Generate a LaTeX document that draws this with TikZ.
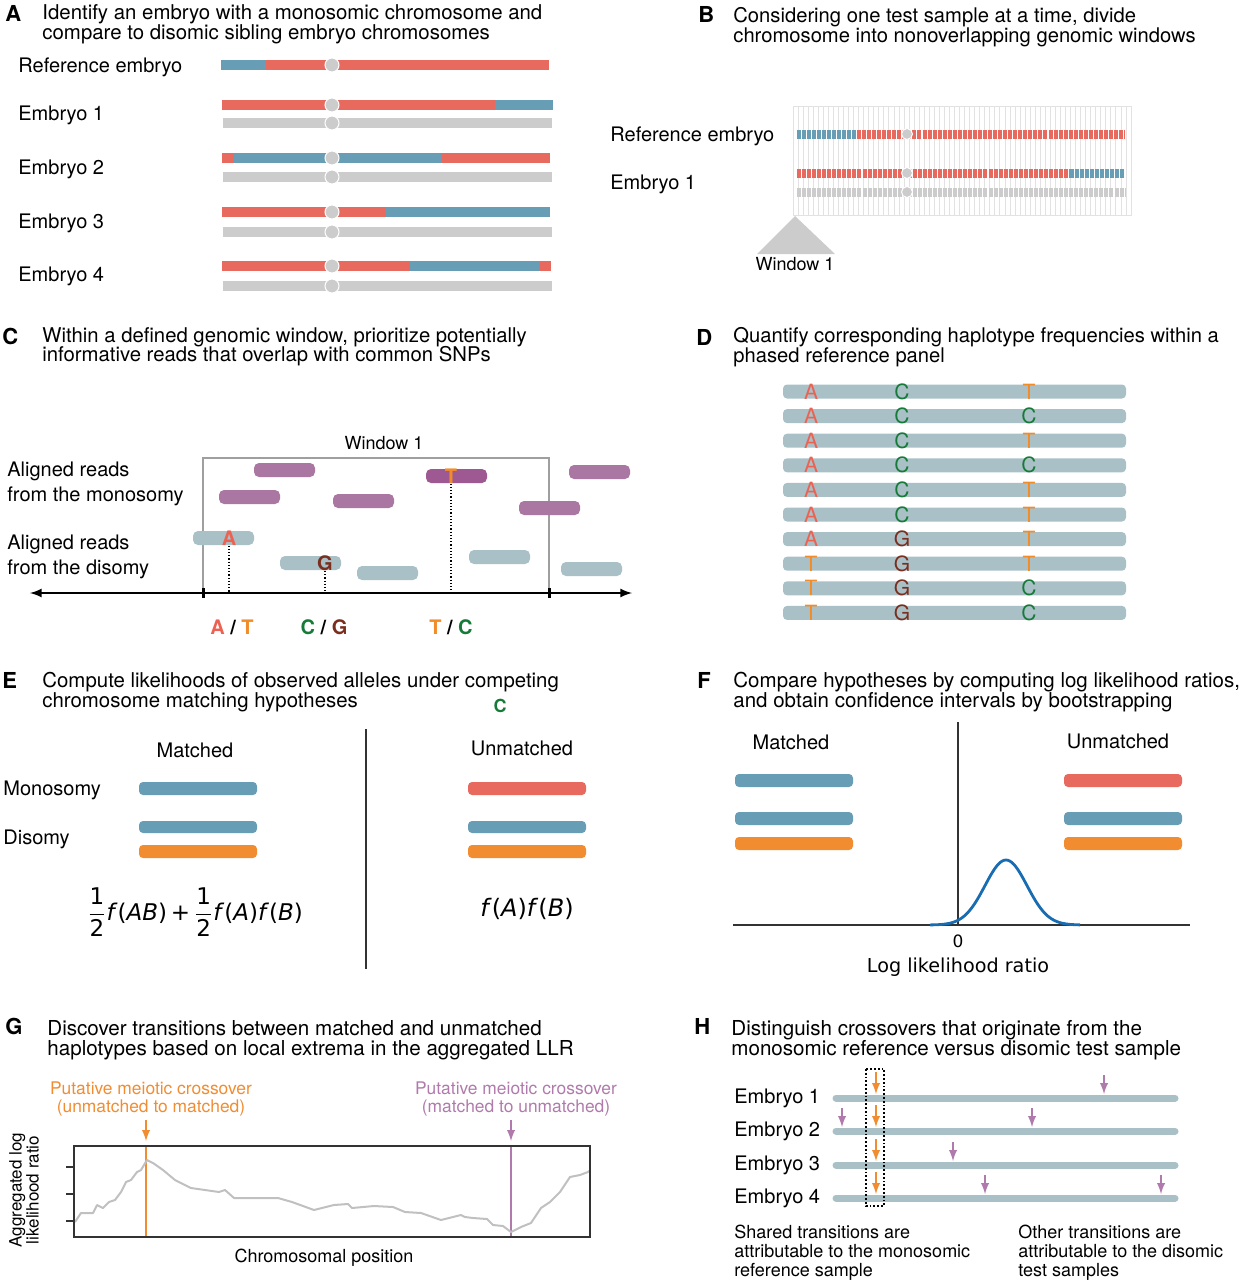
\documentclass[tikz,border=0pt]{standalone}
\usepackage{fontspec}
\setmainfont{TeX Gyre Heros}
\newfontfamily\dejavu{DejaVu Sans}
\usetikzlibrary{positioning,calc}

\definecolor{chrred}{RGB}{232,106,94}
\definecolor{chrblue}{RGB}{104,158,181}
\definecolor{chrgrey}{RGB}{204,204,204}
\definecolor{gridgrey}{RGB}{226,226,226}
\definecolor{monoread}{RGB}{170,118,162}
\definecolor{monoreaddark}{RGB}{158,88,146}
\definecolor{diread}{RGB}{168,192,198}
\definecolor{baseA}{RGB}{236,98,82}
\definecolor{baseT}{RGB}{242,140,40}
\definecolor{baseC}{RGB}{22,122,56}
\definecolor{baseG}{RGB}{122,46,30}
\definecolor{hyporange}{RGB}{241,140,48}
\definecolor{xopurple}{RGB}{176,122,172}
\definecolor{llrblue}{RGB}{24,108,178}
\definecolor{llrgrey}{RGB}{192,192,192}
\definecolor{axisgrey}{RGB}{51,51,51}

\begin{document}
\begin{tikzpicture}[x=0.5pt,y=-0.5pt,
		panel/.style={font=\fontsize{11}{11}\selectfont\bfseries,anchor=base west,inner sep=0pt},
		title/.style={font=\fontsize{#1}{9.8}\selectfont,align=left,anchor=north west,inner sep=0pt},
		title/.default=10.2,
		lab/.style={font=\fontsize{10}{12.5}\selectfont,align=left,anchor=west,inner sep=0pt,yshift=-1pt},
		small/.style={font=\fontsize{9}{9.5}\selectfont,inner sep=0pt},
		chrom/.style={line width=5pt},
		chromB/.style={line width=4.5pt,dash pattern=on 2pt off 0.52pt},
		centro/.style={fill=chrgrey,draw=white,line width=0.5pt},
		gridline/.style={draw=gridgrey,line width=0.4pt},
		read/.style={rounded corners=2.5pt},
		snp/.style={font=\fontsize{10}{10}\selectfont\bfseries,inner sep=0pt},
		base/.style={font=\fontsize{10.5}{10.5}\selectfont,inner sep=0pt},
		hbar/.style={rounded corners=2pt},
		xoarrow/.style={-latex,line width=0.9pt},
		llrcurve/.style={draw=llrgrey,line width=1pt,line join=round}]
	\useasboundingbox (0,0) rectangle (1238,1280);

	% A
	\node[panel] (pA) at (5,21) {A};
	\node[title] (tA) at (42,4.5) {Identify an embryo with a monosomic chromosome and\\compare to disomic sibling embryo chromosomes};
	\node[lab] (refA) at (18,65) {Reference embryo};
	\node[lab] (emb1A) at (18,113) {Embryo 1};
	\node[lab] (emb2A) at (18,167) {Embryo 2};
	\node[lab] (emb3A) at (18,221) {Embryo 3};
	\node[lab] (emb4A) at (18,274) {Embryo 4};
	\foreach \a/\b/\c/\y in {221/266/chrblue/65, 266/549/chrred/65,
			222/495/chrred/105, 495/553/chrblue/105,
			222/234/chrred/158, 234/442/chrblue/158, 442/550/chrred/158,
			222/386/chrred/212, 386/550/chrblue/212,
			222/410/chrred/266, 410/540/chrblue/266, 540/551/chrred/266}
		\draw[chrom,\c] (\a,\y) -- (\b,\y);
	\foreach \y in {123,177,232,286}
		\draw[chrom,chrgrey] (223,\y) -- (552,\y);
	\foreach \y in {65,105,123,158,177,212,232,266,286}
		\draw[centro] (332,\y) circle (7);

	% B
	\node[panel] (pB) at (698,22) {B};
	\node[title=10.1] (tB) at (733,7) {Considering one test sample at a time, divide\\chromosome into nonoverlapping genomic windows};
	\node[lab] (refB) at (610,134) {Reference embryo};
	\node[lab] (emb1B) at (610,182) {Embryo 1};
	\draw[gridline] (793,106) rectangle (1131,215);
	\foreach \i in {1,...,66}
		\draw[gridline] ({793+\i*5.045},106) -- ++(0,109);
	\draw[chromB,chrblue] (797,134) -- (857,134);
	\draw[chromB,chrred] (857,134) -- (1125,134);
	\draw[chromB,chrred] (797,173) -- (1070,173);
	\draw[chromB,chrblue] (1070,173) -- (1125,173);
	\draw[chromB,chrgrey] (797,192) -- (1125,192);
	\foreach \y in {134,173,192}
		\draw[centro] (907,\y) circle (5.5);
	\coordinate (tipB) at (795,216);
	\fill[chrgrey] (tipB) -- (835,254) -- (757,254) -- cycle;
	\node[small] (win1B) at (795,264) {Window 1};

	% C
	\node[panel] (pC) at (2,344) {C};
	\node[title=10.15] (tC) at (42,327) {Within a defined genomic window, prioritize potentially\\informative reads that overlap with common SNPs};
	\node[lab] (monoC) at (7,482) {Aligned reads\\from the monosomy};
	\node[lab] (diC) at (7,555) {Aligned reads\\from the disomy};
	\draw[draw=gray!75,line width=0.8pt] (203,458) rectangle (549,593);
	\node[small] (win1C) at (384,443) {Window 1};
	\coordinate (axL) at (30,593);
	\coordinate (axR) at (632,593);
	\draw[latex-latex,line width=1pt] (axL) -- (axR);
	\fill (201.5,588) rectangle (205,598);
	\fill (547.5,588) rectangle (551,598);
	\foreach \x/\y in {254/470,219/497,333/501,569/472,519/508}
		\fill[read,monoread] (\x,\y-7) rectangle ++(61,14);
	\fill[read,monoreaddark] (426,469) rectangle ++(61,14);
	\foreach \x/\y in {193/538,280/563,357/573,469/557,561/569}
		\fill[read,diread] (\x,\y-7) rectangle ++(61,14);
	\node[snp,text=baseA] (snpA) at (229,538) {A};
	\node[snp,text=baseG] (snpG) at (325,563) {G};
	\node[snp,text=baseT] (snpT) at (451,476) {T};
	\foreach \s in {snpA,snpG,snpT}
		\draw[densely dotted,line width=0.6pt] (\s.south) -- (\s |- axL);
	\node[snp] (alleleAT) at (232,627) {\textcolor{baseA}{A} / \textcolor{baseT}{T}};
	\node[snp] (alleleCG) at (324,627) {\textcolor{baseC}{C} / \textcolor{baseG}{G}};
	\node[snp] (alleleTC) at (451,627) {\textcolor{baseT}{T} / \textcolor{baseC}{C}};

	% D
	\node[panel] (pD) at (696,345) {D};
	\node[title=10.1] (tD) at (733,327) {Quantify corresponding haplotype frequencies within a\\phased reference panel};
	\foreach \a/\b/\c [count=\i from 0] in {A/C/T,A/C/C,A/C/T,A/C/C,A/C/T,A/C/T,A/G/T,T/G/T,T/G/C,T/G/C} {
		\fill[hbar,diread] (783,{384.5+\i*24.6}) rectangle (1126,{398.5+\i*24.6});
		\node[base,text=base\a] (hapA\i) at (811,{391.5+\i*24.6}) {\a};
		\node[base,text=base\b] (hapB\i) at (902,{391.5+\i*24.6}) {\b};
		\node[base,text=base\c] (hapC\i) at (1029,{391.5+\i*24.6}) {\c};
	}

	% E
	\node[panel] (pE) at (2,688) {E};
	\node[title] (tE) at (42,672) {Compute likelihoods of observed alleles under competing\\chromosome matching hypotheses};
	\node[snp,font=\fontsize{9}{9}\selectfont\bfseries,text=baseC] (cE) at (500,706) {C};
	\draw[line width=0.9pt,axisgrey] (366,729) -- (366,969);
	\node[lab,anchor=center] (matE) at (195,748) {Matched};
	\node[lab,anchor=center] (unmE) at (522,746) {Unmatched};
	\node[lab] (monoE) at (3,788) {Monosomy};
	\node[lab] (diE) at (3,837) {Disomy};
	\fill[hbar,chrblue] (139,782) rectangle (257,795);
	\fill[hbar,chrblue] (139,821) rectangle (257,833);
	\fill[hbar,hyporange] (139,845) rectangle (257,858);
	\fill[hbar,chrred] (468,782) rectangle (586,795);
	\fill[hbar,chrblue] (468,821) rectangle (586,833);
	\fill[hbar,hyporange] (468,845) rectangle (586,858);
	\node[font=\dejavu\fontsize{11.5}{14}\selectfont,inner sep=0pt] (likM) at (195,912)
		{$\displaystyle\frac{\mbox{1}}{\mbox{2}}$\textit{f}(\textit{AB})\,+\,$\displaystyle\frac{\mbox{1}}{\mbox{2}}$\textit{f}(\textit{A})\textit{f}(\textit{B})};
	\node[font=\dejavu\fontsize{12}{14}\selectfont,inner sep=0pt] (likU) at (527,909)
		{\textit{f}(\textit{A})\textit{f}(\textit{B})};

	% F
	\node[panel] (pF) at (697,688) {F};
	\node[title=10.25] (tF) at (733,672) {Compare hypotheses by computing log likelihood ratios,\\and obtain confidence intervals by bootstrapping};
	\node[lab,anchor=center] (matF) at (791,740) {Matched};
	\node[lab,anchor=center] (unmF) at (1118,739) {Unmatched};
	\fill[hbar,chrblue] (735,774) rectangle (853,787);
	\fill[hbar,chrblue] (735,812) rectangle (853,825);
	\fill[hbar,hyporange] (735,837) rectangle (853,850);
	\fill[hbar,chrred] (1064,774) rectangle (1182,787);
	\fill[hbar,chrblue] (1064,812) rectangle (1182,825);
	\fill[hbar,hyporange] (1064,837) rectangle (1182,850);
	\coordinate (origF) at (958,925);
	\draw[line width=0.9pt,axisgrey] (733,925) -- (1190,925);
	\draw[line width=0.9pt,axisgrey] (origF) -- (958,722);
	\draw[llrblue,line width=1.4pt] plot[domain=930:1080,samples=80] (\x,{925-65*exp(-((\x-1006)/21)^2/2)});
	\node[font=\dejavu\fontsize{8.5}{8.5}\selectfont,inner sep=0pt] (zeroF) at (958,941) {0};
	\node[font=\dejavu\fontsize{9.6}{10}\selectfont,inner sep=0pt] (llrF) at (958,967) {Log likelihood ratio};

	% G
	\node[panel] (pG) at (5,1034) {G};
	\node[title=10.3] (tG) at (47,1020.5) {Discover transitions between matched and unmatched\\haplotypes based on local extrema in the aggregated LLR};
	\node[small,font=\fontsize{8.7}{9.2}\selectfont,align=center,text=hyporange] (xoUM) at (151,1099) {Putative meiotic crossover\\(unmatched to matched)};
	\node[small,font=\fontsize{8.7}{9.2}\selectfont,align=center,text=xopurple] (xoMU) at (516,1099) {Putative meiotic crossover\\(matched to unmatched)};
	\coordinate (xoUMtip) at (146,1141);
	\coordinate (xoMUtip) at (511,1141);
	\draw[xoarrow,hyporange] (146,1120) -- (xoUMtip);
	\draw[xoarrow,xopurple] (511,1120) -- (xoMUtip);
	\draw[hyporange,line width=1pt] (146,1146) -- (146,1237);
	\draw[xopurple,line width=1pt] (511,1146) -- (511,1237);
	\begin{scope}
		\clip (74,1146) rectangle (590,1237);
		\draw[llrcurve] plot coordinates {(75,1222) (81,1213) (93,1213) (97,1205) (103,1208)
			(109,1202) (115,1200) (121,1192) (126,1182) (131,1180) (137,1172) (141,1170)
			(147,1160) (153,1163) (163,1170) (175,1180) (191,1188) (219,1192) (225,1190)
			(234,1198) (278,1198) (292,1202) (314,1210) (334,1205) (348,1204) (352,1208)
			(374,1206) (393,1207) (405,1212) (421,1213) (441,1220) (461,1215) (465,1217)
			(473,1218) (487,1219) (493,1225) (503,1226) (511,1232) (521,1227) (531,1223)
			(541,1208) (550,1202) (560,1192) (570,1177) (580,1175) (588,1172) (593,1168)};
	\end{scope}
	\draw[axisgrey,line width=0.9pt] (74,1146) rectangle (590,1237);
	\foreach \y in {1167,1194,1221}
		\draw[axisgrey,line width=0.6pt] (66,\y) -- (74,\y);
	\node[small,font=\fontsize{8.5}{8.5}\selectfont,rotate=90,align=center] (ylabG) at (24,1190) {Aggregated log\\likelihood ratio};
	\node[small] (xlabG) at (324,1258) {Chromosomal position};

	% H
	\node[panel] (pH) at (694,1034) {H};
	\node[title=10.3] (tH) at (731,1020.5) {Distinguish crossovers that originate from the\\monosomic reference versus disomic test sample};
	\foreach \y [count=\i] in {1098,1131,1165,1198} {
		\node[lab] (embH\i) at (734,\y-2) {Embryo \i};
		\draw[diread,line width=3.5pt,line cap=round] (836,\y) -- (1175,\y);
		\draw[xoarrow,hyporange] (876,\y-26) -- (876,\y-4);
	}
	\foreach \x/\y in {1104/1098,842/1131,1032/1131,953/1165,985/1198,1161/1198}
		\draw[xoarrow,xopurple] (\x,\y-23) -- (\x,\y-4);
	\draw[densely dotted,line width=0.9pt] (866,1069) rectangle (884,1206);
	\node[small,align=left,anchor=north west] (sharedH) at (734,1225) {Shared transitions are\\attributable to the monosomic\\reference sample};
	\node[small,align=left,anchor=north west] (otherH) at (1018,1225) {Other transitions are\\attributable to the disomic\\test samples};
\end{tikzpicture}
\end{document}
